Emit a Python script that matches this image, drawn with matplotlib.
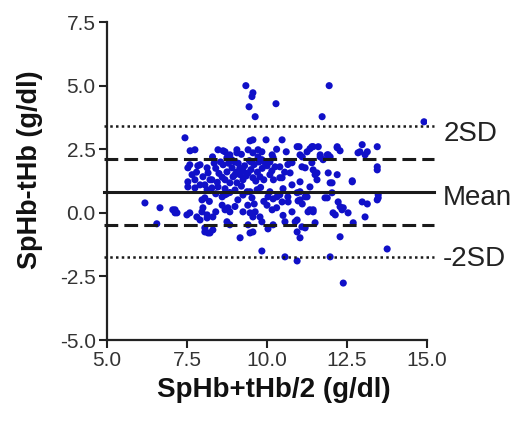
import matplotlib
matplotlib.use('Agg')
from matplotlib import pyplot as plt

plt.rcParams['font.family'] = ['Liberation Sans', 'DejaVu Sans']

# average of the two methods (x) and their difference (y)
avg = [
    9.34, 9.56, 9.53, 9.44, 10.28, 9.63, 11.94, 11.72, 14.9,
    7.44, 7.6, 7.75, 8.3, 8.47, 9.47, 9.56, 9.97, 10.47, 8.63, 9.06, 9.72, 9.84,
    11.0, 11.34, 11.6, 8.75, 8.9, 11.4, 11.25, 11.1, 11.66, 11.75, 11.88, 11.97,
    12.19, 12.28, 12.97, 12.9, 13.06, 13.44, 13.13, 12.84, 8.69, 8.84, 9.06,
    10.94, 11.44, 12.19, 9.41, 9.56, 9.72, 10.16, 10.19, 11.03, 11.66, 11.91,
    10.6, 10.3, 9.2,
    7.53, 7.84, 8.13, 13.44, 11.5, 12.19, 11.4, 12.66, 11.56, 12.03, 12.66, 13.44,
    8.94, 9.16, 9.25, 9.06, 9.41, 9.56, 9.78, 10.09, 10.4, 11.03, 11.56, 7.59,
    7.91, 7.66, 7.75, 7.53, 8.0, 8.16, 8.28, 8.63, 8.75, 8.91, 9.0, 8.69, 8.84,
    9.84, 9.94, 10.09, 10.25, 10.4, 10.78, 11.09, 11.19, 11.44, 11.91, 10.47,
    10.72, 8.22, 8.5, 8.4, 8.55, 8.35, 9.1, 9.3, 9.45, 9.6, 9.25, 9.5, 9.7, 9.85,
    10.0, 10.15, 9.0, 8.8, 9.15, 9.35, 9.65, 9.9, 10.2, 10.55, 10.65, 9.05, 8.6,
    8.45, 7.8, 9.5, 9.75,
    8.06, 8.47, 10.78, 11.34, 11.97, 7.53, 7.75, 7.91, 8.13, 8.28, 8.69, 8.75,
    8.6, 8.84, 9.0, 8.06, 7.97, 8.69, 9.09, 9.47, 9.53, 10.03, 10.31, 10.47,
    10.66, 10.94, 11.03, 9.38, 9.69, 10.09, 10.19, 10.4, 10.65, 10.97, 11.25,
    11.03, 11.19, 12.03, 11.81, 12.22, 12.28, 12.34, 12.97, 13.13, 13.44, 13.47,
    13.47, 11.88, 6.19, 6.66, 9.2, 9.8, 10.5, 8.4, 9.25,
    7.13, 7.13, 7.5, 7.59, 7.97, 8.13, 8.31, 8.69, 8.84, 8.78, 9.25, 9.47, 9.63,
    9.56, 9.78, 10.16, 10.78, 10.94, 11.44, 11.34, 11.28, 11.44, 12.13, 12.06,
    12.53, 13.06, 12.38, 7.81, 7.91, 8.13, 7.06, 7.19, 8.0, 8.4, 8.6, 9.0, 9.4,
    9.6, 10.0, 10.3, 10.5, 11.1, 9.9, 8.2,
    6.56, 8.06, 8.22, 8.06, 8.16, 8.31, 8.84, 8.75, 9.16, 9.47, 9.56, 9.41,
    10.03, 9.84, 10.19, 10.56, 10.88, 10.94, 11.03, 11.19, 11.09, 11.5, 12.69,
    12.28, 9.84, 10.56, 10.94, 13.75, 11.97, 12.38,
]
diff = [
    5.0, 4.72, 4.57, 4.17, 4.29, 3.78, 5.0, 3.78, 3.58,
    2.95, 2.44, 2.48, 2.2, 2.48, 2.83, 2.87, 2.87, 2.87, 2.44, 2.48, 2.48, 2.4,
    2.6, 2.52, 2.6, 2.17, 2.09, 2.6, 2.4, 2.2, 2.2, 2.09, 2.28, 2.2,
    2.56, 2.44, 2.68, 2.4, 2.28, 2.6, 2.4, 2.36, 2.4, 2.28, 2.36,
    2.6, 2.6, 2.6, 2.48, 2.36, 2.2, 2.28, 2.17, 2.28, 2.28, 2.28,
    2.4, 2.5, 2.3,
    1.77, 1.85, 1.77, 1.81, 1.5, 1.5, 1.97, 1.26, 1.3, 1.18, 1.22, 1.69,
    1.42, 1.5, 1.3, 1.18, 1.57, 1.38, 1.42, 1.5, 1.38, 1.22, 1.57, 1.89,
    1.89, 1.5, 1.3, 1.22, 1.42, 1.57, 1.3, 1.89, 1.61, 1.77, 1.5, 1.3, 1.18,
    2.09, 1.97, 2.0, 1.81, 1.81, 1.97, 1.81, 1.77, 1.69, 1.57, 1.38,
    1.57, 1.3, 1.55, 1.75, 2.0, 1.95, 1.95, 1.85, 2.05, 1.9, 1.65, 1.7, 1.6, 1.75,
    1.85, 1.65, 2.0, 1.95, 1.75, 1.45, 1.25, 1.3, 1.3, 1.6, 1.9, 1.6, 1.4,
    1.2, 1.6, 2.0, 2.0,
    1.1, 1.02, 1.1, 1.02, 1.18, 1.02, 0.98, 1.1, 0.91, 0.98, 0.95, 0.75,
    0.63, 0.8, 0.9, 0.59, 0.51, 0.71, 0.51, 0.83, 0.59, 0.63, 0.63, 0.43,
    0.43, 0.79, 0.51, 0.83, 0.91, 0.83, 0.55, 0.71, 0.63, 0.47, 0.63,
    0.83, 0.63, 0.79, 0.59, 0.43, 0.24, 0.12, 0.43, 0.35, 0.51, 0.71,
    0.59, 0.59, 0.39, 0.2, 1.05, 1.0, 0.95, 0.75, 0.7,
    0.12, 0.0, -0.08, 0.0, 0.04, -0.08, -0.16, 0.12, 0.04, 0.2, 0.04, 0.0, 0.04,
    -0.16, -0.16, 0.12, 0.04, -0.28, 0.04, 0.12, 0.04, 0.12, -0.08, 0.0,
    0.0, -0.16, 0.2, -0.16, -0.28, -0.2, 0.12, 0.0, 0.2, 0.04, 0.3, 0.25, 0.3,
    0.35, 0.3, 0.2, -0.1, 0.35, 0.45, 0.45,
    -0.43, -0.75, -0.79, -0.59, -0.79, -0.67, -0.47, -0.35, -0.98, -0.79, -0.75, -0.47,
    -0.63, -0.35, -0.47, -0.35, -0.35, -0.75, -0.98, -0.59, -0.55, -0.39, -0.39,
    -0.94, -1.5, -1.73, -1.89, -1.42, -1.73, -2.76,
]

mean_diff = 0.83
ci_low, ci_high = -0.49, 2.13
sd2_low, sd2_high = -1.75, 3.40

fig = plt.figure(figsize=(5.21, 4.24), dpi=100)
ax = fig.add_axes([0.205, 0.198, 0.615, 0.75])

ax.scatter(avg, diff, s=26, color='#1010c8', edgecolors='none', zorder=2)

x_line = [4.9, 15.2]
kw = dict(color='#1a1a1a', clip_on=False, zorder=3)
ax.plot(x_line, [mean_diff] * 2, lw=2.2, **kw)
ax.plot(x_line, [ci_high] * 2, lw=2.2, dashes=(4.5, 2), **kw)
ax.plot(x_line, [ci_low] * 2, lw=2.2, dashes=(4.5, 2), **kw)
ax.plot(x_line, [sd2_high] * 2, lw=1.8, dashes=(1, 1.3), **kw)
ax.plot(x_line, [sd2_low] * 2, lw=1.8, dashes=(1, 1.3), **kw)

for y, txt in [(3.1, '2SD'), (0.6, 'Mean'), (-1.8, '-2SD')]:
    ax.text(15.5, y, txt, fontsize=20, color='#222222', va='center', ha='left', clip_on=False)

ax.set_xlim(5, 15)
ax.set_ylim(-5, 7.5)
ax.set_xticks([5.0, 7.5, 10.0, 12.5, 15.0])
ax.set_yticks([-5.0, -2.5, 0.0, 2.5, 5.0, 7.5])
ax.set_xticklabels(['5.0', '7.5', '10.0', '12.5', '15.0'])
ax.set_yticklabels(['-5.0', '-2.5', '0.0', '2.5', '5.0', '7.5'])
ax.tick_params(labelsize=15, labelcolor='#333333', width=1.5, length=6, color='#222222', pad=2)

for side in ['top', 'right']:
    ax.spines[side].set_visible(False)
for side in ['left', 'bottom']:
    ax.spines[side].set_linewidth(1.6)
    ax.spines[side].set_color('#222222')

ax.set_xlabel('SpHb+tHb/2 (g/dl)', fontsize=20, fontweight='bold', color='#111111')
ax.set_ylabel('SpHb-tHb (g/dl)', fontsize=19.5, fontweight='bold', color='#111111')
ax.xaxis.set_label_coords(0.52, -0.115)
ax.yaxis.set_label_coords(-0.2, 0.535)

plt.savefig('out.png', dpi=100)
